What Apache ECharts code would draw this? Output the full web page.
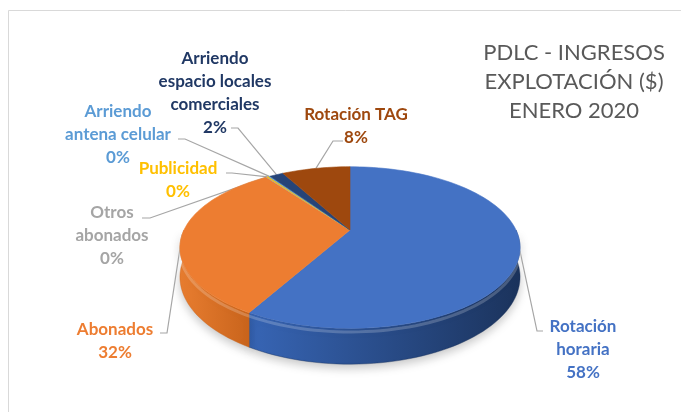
<!DOCTYPE html>
<html>
<head>
<meta charset="utf-8">
<script src="https://cdn.jsdelivr.net/npm/echarts@6/dist/echarts.min.js"></script>
<style>
  html, body { margin: 0; padding: 0; background: #fff; }
  #chart { width: 681px; height: 412px; }
</style>
</head>
<body>
<div id="chart"></div>
<script>
'use strict';

// slices in drawing order, clockwise from 12 o'clock
const categories = ['Rotación horaria', 'Abonados', 'Otros abonados', 'Publicidad',
    'Arriendo antena celular', 'Arriendo espacio locales comerciales', 'Rotación TAG'];
const shares = [58.2, 31.7, 0.1, 0.2, 0.2, 1.6, 8.0];
const labelNames = ['Rotación\nhoraria', 'Abonados', 'Otros\nabonados', 'Publicidad',
    'Arriendo\nantena celular', 'Arriendo\nespacio locales\ncomerciales', 'Rotación TAG'];
const titleLines = ['PDLC - INGRESOS', 'EXPLOTACIÓN ($)', 'ENERO 2020'];

// styles
const topColors = ['#4472c4', '#ed7d31', '#a5a5a5', '#ffc000', '#5b9bd5', '#264478', '#9e480e'];
const wallColors = [['#3765b5', '#1b335c'], ['#e87d30', '#c9641c'], ['#999', '#777'], ['#e5ac00', '#c99600'],
    ['#4f8bc2', '#3c6fa0'], ['#213c6a', '#172a4c'], ['#8e400c', '#6e3109']];
const textColors = ['#4472c4', '#ed7d31', '#a5a5a5', '#ffc000', '#5b9bd5', '#203864', '#9e480e'];

// label placement: block centre, leader start, leader elbow
const labelLayout = [
    { x: 583, y: 350, from: [543, 331], elbow: [537, 331] },
    { x: 115, y: 341, from: [160, 333], elbow: [167, 333] },
    { x: 112, y: 236, from: [142, 218], elbow: [150, 218] },
    { x: 178, y: 180, from: [226, 173], elbow: [232, 173] },
    { x: 118, y: 135, from: [178, 139], elbow: [185, 139] },
    { x: 215, y: 93, from: [231, 128], elbow: [238, 128] },
    { x: 356, y: 126, from: [343, 141], elbow: [333, 141] }
];

// 3d pie projection (simple perspective)
const geo = { cx: 350, cy: 230, R: 166, Ry: 77, k: 0.2175, H: 28 };

function pt(deg, depth) {
    const t = deg * Math.PI / 180;
    const s = 1 / (1 + geo.k * Math.cos(t));
    return [geo.cx + geo.R * Math.sin(t) * s, geo.cy - geo.Ry * Math.cos(t) * s + depth * geo.H * s];
}

function arc(a0, a1, depth) {
    const n = Math.max(2, Math.ceil((a1 - a0) / 2));
    const pts = [];
    for (let j = 0; j <= n; j++) {
        pts.push(pt(a0 + (a1 - a0) * j / n, depth));
    }
    return pts;
}

const total = shares.reduce((a, b) => a + b, 0);
let acc = 0;
const sliceData = shares.map((v, i) => {
    const start = acc / total * 360;
    acc += v;
    return { name: categories[i], value: [start, acc / total * 360, Math.round(v / total * 100)] };
});

function renderItem(params, api) {
    const i = params.dataIndex;
    const a0 = api.value(0);
    const a1 = api.value(1);
    const pct = api.value(2);
    const children = [];

    // top face
    children.push({
        type: 'polygon',
        z2: 30,
        shape: { points: [[geo.cx, geo.cy]].concat(arc(a0, a1, 0)) },
        style: { fill: topColors[i], stroke: topColors[i], lineWidth: 0.6 }
    });

    // front wall
    const w0 = Math.max(a0, 90);
    const w1 = Math.min(a1, 270);
    if (w1 > w0) {
        const upper = arc(w0, w1, 0);
        const lower = arc(w0, w1, 1).reverse();
        children.push({
            type: 'polygon',
            z2: 2,
            shape: { points: upper.concat(lower) },
            style: {
                fill: new echarts.graphic.LinearGradient(0, 0, 1, 0, [
                    { offset: 0, color: wallColors[i][0] },
                    { offset: 1, color: wallColors[i][1] }
                ]),
                stroke: wallColors[i][1],
                lineWidth: 0.4,
                shadowBlur: 10,
                shadowOffsetY: 4,
                shadowColor: 'rgba(0,0,0,0.22)'
            }
        });
        // bevel highlight on the rim
        children.push({
            type: 'polyline',
            z2: 20,
            shape: { points: arc(w0, w1, 0.1) },
            style: { stroke: 'rgba(255,255,255,0.2)', lineWidth: 3, fill: null }
        });
    }

    // leader line and label
    const lay = labelLayout[i];
    const mid = (a0 + a1) / 2;
    children.push({
        type: 'polyline',
        z2: 10,
        shape: { points: [lay.from, lay.elbow, pt(mid, 0)] },
        style: { stroke: '#a6a6a6', lineWidth: 1.2, fill: null }
    });
    children.push({
        type: 'text',
        z2: 40,
        x: lay.x,
        y: lay.y,
        style: {
            text: labelNames[i] + '\n' + pct + '%',
            fill: textColors[i],
            font: 'bold 17px Lato',
            lineHeight: 23,
            align: 'center',
            verticalAlign: 'middle'
        }
    });

    return { type: 'group', children };
}

const chart = echarts.init(document.getElementById('chart'));
chart.setOption({
    animation: false,
    backgroundColor: '#fff',
    graphic: [{
        type: 'rect',
        shape: { x: 8.5, y: 10.5, width: 700, height: 420 },
        style: { fill: null, stroke: '#d9d9d9', lineWidth: 1 }
    }, {
        type: 'text',
        x: 574,
        y: 82,
        style: {
            text: titleLines.join('\n'),
            fill: '#595959',
            font: '22px Lato',
            lineHeight: 29,
            align: 'center',
            verticalAlign: 'middle'
        }
    }],
    series: [{
        type: 'custom',
        coordinateSystem: 'none',
        renderItem,
        data: sliceData
    }]
});
</script>
</body>
</html>
